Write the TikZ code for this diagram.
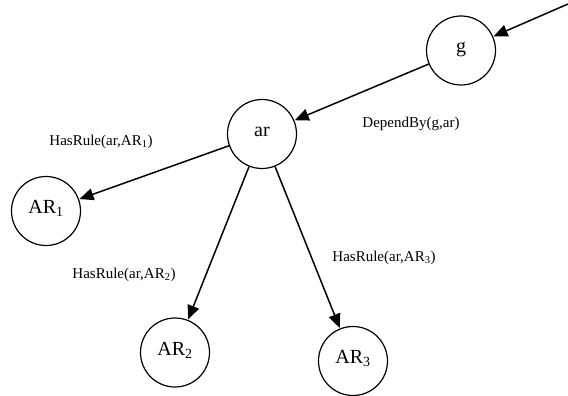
\documentclass[tikz,border=0pt]{standalone}
\usepackage{fontspec}
\setmainfont{Liberation Serif}
\usetikzlibrary{arrows.meta}
\begin{document}
\begin{tikzpicture}[x=1pt,y=-1pt,
  state/.style={circle,draw,line width=1.2pt,minimum size=69pt,inner sep=0pt,
    font=\fontsize{20}{20}\selectfont,text height=9pt,text depth=4pt},
  rel/.style={-{Triangle[length=14pt,width=12pt]},line width=1.5pt,shorten >=0.5pt},
  lab/.style={anchor=base,inner sep=0pt,font=\fontsize{15}{15}\selectfont}]
\useasboundingbox (0,0) rectangle (568,396);
\node[state] (g) at (461,50.5) {g};
\node[state] (ar) at (262,134) {ar};
\node[state] (ar1) at (46,211) {AR\textsubscript{1}};
\node[state] (ar2) at (175,352.5) {AR\textsubscript{2}};
\node[state] (ar3) at (353,361) {AR\textsubscript{3}};
\coordinate (src) at (568,4);
\draw[rel] (src) -- (g);
\draw[rel] (g) -- (ar);
\draw[rel] (ar) -- (ar1);
\draw[rel] (ar) -- (ar2);
\draw[rel] (ar) -- (ar3);
\node[lab] (l1) at (101,145) {HasRule(ar,AR\textsubscript{1})};
\node[lab] (l0) at (411,128) {DependBy(g,ar)};
\node[lab] (l2) at (124,278) {HasRule(ar,AR\textsubscript{2})};
\node[lab] (l3) at (384,261) {HasRule(ar,AR\textsubscript{3})};
\end{tikzpicture}
\end{document}
